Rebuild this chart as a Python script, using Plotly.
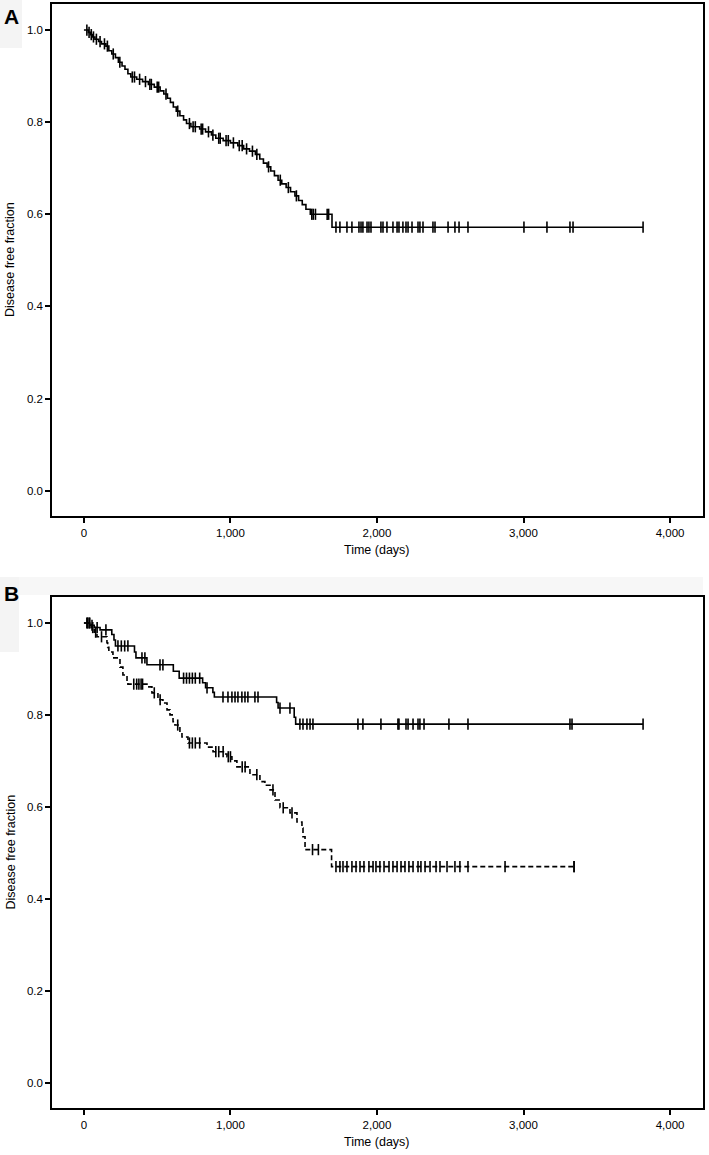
import numpy as np
import plotly.graph_objects as go

# ---------------- data ----------------
# Panel A: all patients
a_event_days = [30, 45, 60, 75, 100, 120, 150, 170, 190, 215, 235, 260, 280, 300, 320, 360, 400, 440,
                480, 520, 545, 570, 590, 610, 630, 655, 680, 700, 730, 790, 830, 870, 900, 950, 1000,
                1050, 1090, 1130, 1170, 1200, 1225, 1250, 1275, 1300, 1325, 1350, 1380, 1410, 1440,
                1465, 1490, 1515, 1545, 1693]
a_surv = [0.995, 0.99, 0.985, 0.98, 0.975, 0.97, 0.965, 0.955, 0.948, 0.94, 0.93, 0.922, 0.915, 0.905,
          0.898, 0.893, 0.888, 0.882, 0.876, 0.868, 0.861, 0.852, 0.843, 0.833, 0.824, 0.814, 0.805,
          0.797, 0.79, 0.785, 0.779, 0.772, 0.765, 0.76, 0.755, 0.749, 0.742, 0.737, 0.73, 0.72, 0.711,
          0.703, 0.694, 0.684, 0.674, 0.666, 0.658, 0.649, 0.64, 0.63, 0.621, 0.611, 0.60, 0.572]
a_censor_days = [20, 35, 50, 65, 85, 110, 140, 160, 200, 245, 330, 345, 380, 420, 450, 460, 500, 510,
                 560, 640, 720, 745, 760, 800, 810, 850, 880, 920, 930, 970, 985, 1020, 1060, 1080,
                 1110, 1150, 1180, 1260, 1340, 1395, 1450, 1555, 1565, 1580, 1660, 1670,
                 1720, 1747, 1795, 1829, 1877, 1891, 1904, 1932, 1945, 1959, 2027, 2041, 2068, 2109,
                 2137, 2150, 2177, 2198, 2212, 2239, 2280, 2293, 2314, 2382, 2396, 2485, 2532, 2560,
                 2621, 3003, 3160, 3317, 3338]
a_end_day = 3816

# Panel B, solid group
b1_event_days = [40, 70, 110, 190, 205, 215, 345, 355, 430, 610, 650, 810, 830, 880, 890, 1315, 1325,
                 1435, 1445]
b1_surv = [0.995, 0.99, 0.985, 0.975, 0.963, 0.95, 0.937, 0.924, 0.909, 0.895, 0.88, 0.87, 0.859,
           0.849, 0.839, 0.827, 0.815, 0.795, 0.78]
b1_censor_days = [20, 35, 55, 90, 150, 232, 255, 278, 300, 396, 416, 519, 539, 680, 700, 720, 740, 760,
                  790, 840, 949, 983, 1010, 1031, 1051, 1078, 1099, 1119, 1167, 1188, 1338, 1406,
                  1474, 1495, 1522, 1543, 1563, 1870, 1904, 2027, 2143, 2150, 2198, 2212, 2246, 2280,
                  2293, 2321, 2491, 2621, 3317, 3331]
b1_end_day = 3816

# Panel B, dashed group
b2_event_days = [50, 70, 89, 157, 162, 170, 198, 246, 266, 294, 300, 430, 464, 505, 539, 567, 587, 608,
                 621, 655, 669, 710, 840, 881, 962, 976, 1010, 1044, 1133, 1201, 1235, 1270, 1304,
                 1338, 1406, 1454, 1488, 1495, 1509, 1690]
b2_surv = [0.99, 0.98, 0.97, 0.957, 0.947, 0.937, 0.924, 0.904, 0.887, 0.872, 0.867, 0.861, 0.848,
           0.833, 0.826, 0.811, 0.80, 0.785, 0.778, 0.761, 0.752, 0.739, 0.73, 0.72, 0.715, 0.709,
           0.70, 0.687, 0.67, 0.655, 0.647, 0.637, 0.615, 0.598, 0.587, 0.567, 0.554, 0.535, 0.507,
           0.47]
b2_censor_days = [25, 40, 60, 80, 120, 340, 360, 375, 390, 400, 480, 520, 640, 720, 740, 760, 790,
                  900, 920, 950, 985, 1000, 1080, 1100, 1180, 1290, 1360, 1420, 1560, 1600,
                  1720, 1747, 1768, 1795, 1829, 1857, 1884, 1911, 1945, 1973, 1993, 2020, 2048, 2082,
                  2109, 2137, 2164, 2191, 2218, 2246, 2280, 2300, 2328, 2362, 2403, 2430, 2478, 2532,
                  2566, 2621, 2874, 3345]
b2_end_day = 3345

x_ticks = [0, 1000, 2000, 3000, 4000]
y_ticks = [0.0, 0.2, 0.4, 0.6, 0.8, 1.0]
x_title = "Time (days)"
y_title = "Disease free fraction"
panel_labels = ["A", "B"]

# ---------------- helpers ----------------
def step_xy(days, surv, end):
    xs = [0] + list(days) + [end]
    ys = [1.0] + list(surv) + [surv[-1]]
    return xs, ys

def surv_at(days, surv, t):
    d = np.asarray(days)
    s = np.asarray([1.0] + list(surv))
    idx = np.searchsorted(d, np.asarray(t), side="right")
    return s[idx]

FONT = "Liberation Sans Narrow, Arial Narrow, Liberation Sans, Arial, sans-serif"
W, H = 709, 1155

fig = go.Figure()

def add_curve(days, surv, cens, end, xa, ya, dash):
    xs, ys = step_xy(days, surv, end)
    fig.add_trace(go.Scatter(x=xs, y=ys, mode="lines", line=dict(color="black", width=1.6, shape="hv", dash=dash),
                             xaxis=xa, yaxis=ya, showlegend=False, hoverinfo="skip"))
    cx = list(cens) + [end]
    cy = surv_at(days, surv, cx)
    fig.add_trace(go.Scatter(x=cx, y=cy, mode="markers",
                             marker=dict(symbol="line-ns", size=8, line=dict(color="black", width=1.6)),
                             xaxis=xa, yaxis=ya, showlegend=False, hoverinfo="skip"))

add_curve(a_event_days, a_surv, a_censor_days, a_end_day, "x", "y", "solid")
add_curve(b1_event_days, b1_surv, b1_censor_days, b1_end_day, "x2", "y2", "solid")
add_curve(b2_event_days, b2_surv, b2_censor_days, b2_end_day, "x2", "y2", "5px,3px")

def px_x(p):
    return p / W

def px_y(p):
    return 1 - p / H

left, right = 52, 703
a_top, a_bot = 4, 516
b_top, b_bot = 597, 1108

axis_common = dict(showline=True, mirror=True, linecolor="black", linewidth=1.5, ticks="outside",
                   ticklen=5, tickwidth=1.5, tickcolor="black", showgrid=False, zeroline=False,
                   tickfont=dict(family=FONT, size=11.5, color="black"))

xrange = [-218, 4225]
yrange = [-0.055, 1.0565]

fig.update_layout(
    width=W, height=H, margin=dict(l=0, r=0, t=0, b=0),
    plot_bgcolor="white", paper_bgcolor="white",
    xaxis=dict(domain=[px_x(left), px_x(right)], range=xrange, tickvals=x_ticks, tickformat=",d",
               anchor="y", **axis_common),
    yaxis=dict(domain=[px_y(a_bot), px_y(a_top)], range=yrange, tickvals=y_ticks, tickformat=".1f",
               anchor="x", **axis_common),
    xaxis2=dict(domain=[px_x(left), px_x(right)], range=xrange, tickvals=x_ticks, tickformat=",d",
                anchor="y2", **axis_common),
    yaxis2=dict(domain=[px_y(b_bot), px_y(b_top)], range=yrange, tickvals=y_ticks, tickformat=".1f",
                anchor="x2", **axis_common),
)

# light grey background patches behind the panel letters
shapes = [
    dict(type="rect", xref="paper", yref="paper", x0=0, x1=px_x(22), y0=px_y(48), y1=1,
         fillcolor="#f4f4f4", line=dict(width=0), layer="below"),
    dict(type="rect", xref="paper", yref="paper", x0=0, x1=px_x(right), y0=px_y(595), y1=px_y(577),
         fillcolor="#f7f7f7", line=dict(width=0), layer="below"),
    dict(type="rect", xref="paper", yref="paper", x0=0, x1=px_x(19), y0=px_y(652), y1=px_y(577),
         fillcolor="#f4f4f4", line=dict(width=0), layer="below"),
]
fig.update_layout(shapes=shapes)

ann = []
for lab, ytop in zip(panel_labels, [17, 593]):
    ann.append(dict(text=f"<b>{lab}</b>", xref="paper", yref="paper", x=px_x(2), y=px_y(ytop),
                    xanchor="left", yanchor="middle", showarrow=False,
                    font=dict(family="Liberation Sans, Arial, sans-serif", size=21, color="black")))
for bot, top in [(a_bot, a_top), (b_bot, b_top)]:
    ann.append(dict(text=x_title, xref="paper", yref="paper", x=px_x((left + right) / 2),
                    y=px_y(bot + 34), xanchor="center", yanchor="middle", showarrow=False,
                    font=dict(family=FONT, size=12.5, color="black")))
    ann.append(dict(text=y_title, xref="paper", yref="paper", x=px_x(10),
                    y=px_y((bot + top) / 2), xanchor="center", yanchor="middle", textangle=-90,
                    showarrow=False, font=dict(family=FONT, size=12.5, color="black")))
fig.update_layout(annotations=ann)

fig.write_html("out.html", config={"displayModeBar": False},
               post_script="document.body.style.margin='0';document.body.style.overflow='hidden';")
